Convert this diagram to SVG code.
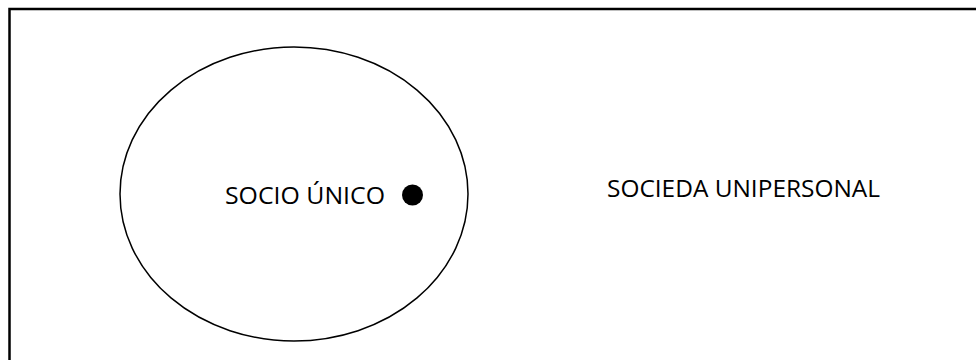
<svg xmlns="http://www.w3.org/2000/svg" width="976" height="360" viewBox="0 0 976 360">
  <style>
    .lbl { font-family: "Open Sans", "Liberation Sans", sans-serif; font-size: 24px; fill: #000; }
    .shape { fill: none; stroke: #000; }
  </style>
  <rect x="0" y="0" width="976" height="360" fill="#fff"/>
  <g id="frame">
    <path class="shape" d="M9.5 370 V9 H990" stroke-width="2.5"/>
  </g>
  <g id="socio-circle">
    <ellipse class="shape" cx="294" cy="194" rx="174" ry="147" stroke-width="1.5"/>
  </g>
  <g id="socio-unico">
    <text class="lbl" x="225" y="204" textLength="160" lengthAdjust="spacingAndGlyphs">SOCIO ÚNICO</text>
    <circle cx="412.5" cy="195" r="10.5" fill="#000"/>
  </g>
  <g id="sociedad-unipersonal">
    <text class="lbl" x="607" y="197" textLength="273" lengthAdjust="spacingAndGlyphs">SOCIEDA UNIPERSONAL</text>
  </g>
  <g id="connectors"></g>
</svg>
